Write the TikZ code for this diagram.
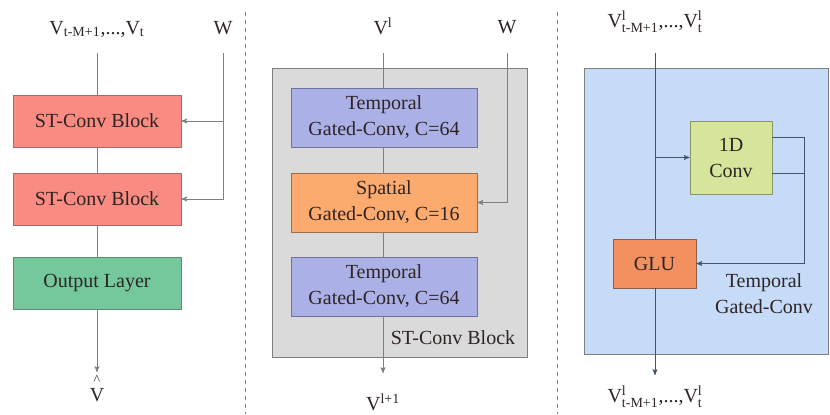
\documentclass[tikz,border=0pt]{standalone}
\usepackage{amsmath}
\usepackage{fontspec}
\setmainfont{Liberation Serif}
\usetikzlibrary{arrows}

\definecolor{stred}{HTML}{F98B82}
\definecolor{stredline}{HTML}{A86A66}
\definecolor{outgreen}{HTML}{74C89C}
\definecolor{outgreenline}{HTML}{5E8C74}
\definecolor{temppurple}{HTML}{ABB1E6}
\definecolor{temppurpleline}{HTML}{6F7399}
\definecolor{spatorange}{HTML}{FDAA6E}
\definecolor{spatorangeline}{HTML}{9C6E4E}
\definecolor{convlime}{HTML}{D6E59C}
\definecolor{convlimeline}{HTML}{8A9466}
\definecolor{gluorange}{HTML}{F2905F}
\definecolor{gluorangeline}{HTML}{8E5F48}
\definecolor{panelgrey}{HTML}{DADADA}
\definecolor{panelblue}{HTML}{C6DBF7}
\definecolor{wire}{HTML}{7F7F7F}
\definecolor{wireblue}{HTML}{44546A}
\definecolor{txt}{HTML}{2E2424}

\begin{document}
\begin{tikzpicture}[x=0.75pt,y=-0.75pt,>=stealth',semithick,text=txt,font=\rmfamily\fontsize{15}{19.5}\selectfont]
	\tikzstyle{block}=[rectangle,draw,semithick,align=center,inner sep=0pt]
	\tikzstyle{stblock}=[block,fill=stred,draw=stredline,minimum width=126pt,minimum height=39pt]
	\tikzstyle{outblock}=[block,fill=outgreen,draw=outgreenline,minimum width=126pt,minimum height=39pt]
	\tikzstyle{tempblock}=[block,fill=temppurple,draw=temppurpleline,minimum width=139.5pt,minimum height=44.25pt]
	\tikzstyle{spatblock}=[block,fill=spatorange,draw=spatorangeline,minimum width=139.5pt,minimum height=44.25pt]
	\tikzstyle{wire}=[draw=wire]
	\tikzstyle{divider}=[draw=wire,dashed,thin]

	\useasboundingbox (0,0) rectangle (830,414);

	% panel backgrounds
	\filldraw[fill=panelgrey,draw=wire,thin] (272,68) rectangle (527,357);
	\filldraw[fill=panelblue,draw=wire,thin] (584,68) rectangle (828,354);
	\path[divider] (245,12) -- (245,414);
	\path[divider] (557,12) -- (557,414);

	% left: whole model
	\node (inA) at (97,29) {$\mathrm{V}_{\text{t-M+1}}\text{,...,}\mathrm{V}_{\text{t}}$};
	\node (wA) at (223,28) {W};
	\coordinate (inAtop) at (97,53);
	\coordinate (wAtop) at (223,53);
	\node[stblock] (stA) at (97,121) {ST-Conv Block};
	\node[stblock] (stB) at (97,199) {ST-Conv Block};
	\node[outblock] (outL) at (97,283) {Output Layer};
	\coordinate (outEnd) at (97,372);
	\node (vhat) at (97,388) {$\overset{\text{\textasciicircum}}{\mathrm{V}}$};

	\path[wire] (inAtop) -- (stA);
	\path[wire] (stA) -- (stB);
	\path[wire] (stB) -- (outL);
	\path[wire,->] (outL) -- (outEnd);
	\path[wire,->] (wAtop) |- (stB.east);
	\path[wire,->] (wAtop |- stA.east) -- (stA.east);

	% middle: ST-Conv block
	\node (vl) at (383,26) {$\mathrm{V}^{\text{l}}$};
	\node (wB) at (507,27) {W};
	\coordinate (vltop) at (383,53);
	\coordinate (wBtop) at (507,53);
	\node[tempblock] (tempA) at (384,117.5) {Temporal\\Gated-Conv, C=64};
	\node[spatblock] (spat) at (384,202.5) {Spatial\\Gated-Conv, C=16};
	\node[tempblock] (tempB) at (384,286.5) {Temporal\\Gated-Conv, C=64};
	\node (stlabel) at (453,338) {ST-Conv Block};
	\coordinate (vlEnd) at (383,373);
	\node (vlnext) at (383,402) {$\mathrm{V}^{\text{l+1}}$};

	\path[wire] (vltop) -- (vltop |- tempA.north);
	\path[wire] (tempA.south -| vltop) -- (spat.north -| vltop);
	\path[wire] (spat.south -| vltop) -- (tempB.north -| vltop);
	\path[wire,->] (tempB.south -| vltop) -- (vlEnd);
	\path[wire,->] (wBtop) |- (spat.east);

	% right: temporal gated-conv
	\node (inC) at (655,22) {$\mathrm{V}^{\text{l}}_{\text{t-M+1}}\text{,...,}\mathrm{V}^{\text{l}}_{\text{t}}$};
	\coordinate (inCtop) at (655,53);
	\node[block,fill=convlime,draw=convlimeline,minimum width=61.5pt,minimum height=54.75pt] (conv) at (731,157.5) {1D\\Conv};
	\node[block,fill=gluorange,draw=gluorangeline,minimum width=62.25pt,minimum height=36.75pt] (glu) at (654.5,263.5) {GLU};
	\node[align=center] (tglabel) at (764,294) {Temporal\\Gated-Conv};
	\coordinate (convA) at (804,137);
	\coordinate (convB) at (804,173);
	\coordinate (inCEnd) at (655,375);
	\node (outC) at (655,397) {$\mathrm{V}^{\text{l}}_{\text{t-M+1}}\text{,...,}\mathrm{V}^{\text{l}}_{\text{t}}$};

	\path[draw=wireblue] (inCtop) -- (inCtop |- glu.north);
	\path[draw=wireblue,->] (inCtop |- conv.west) -- (conv.west);
	\path[draw=wireblue] (conv.east |- convA) -- (convA);
	\path[draw=wireblue] (conv.east |- convB) -- (convB);
	\path[draw=wireblue,->] (convA) |- (glu.east);
	\path[draw=wireblue,->] (glu.south -| inCtop) -- (inCEnd);
\end{tikzpicture}
\end{document}
